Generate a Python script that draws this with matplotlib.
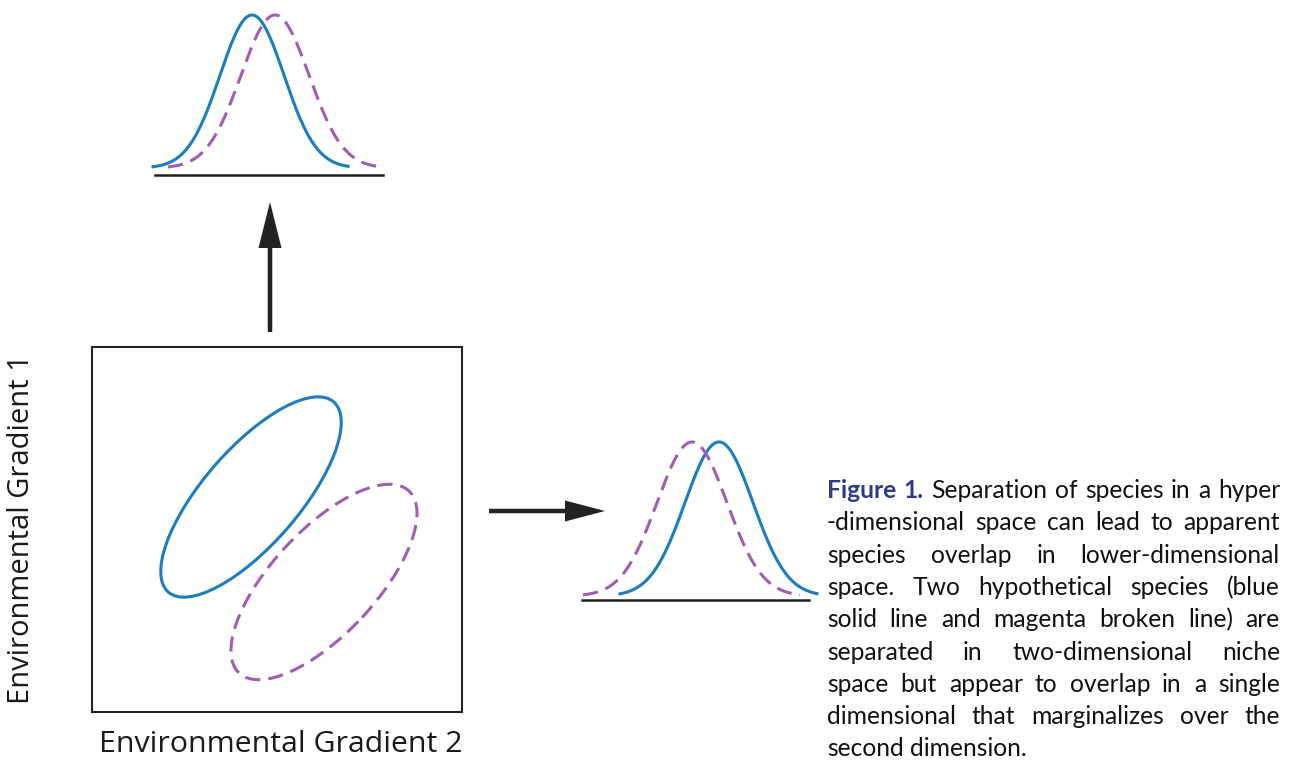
import matplotlib
matplotlib.use("Agg")
import numpy as np
import matplotlib.pyplot as plt
from matplotlib.patches import Ellipse, FancyArrow

# shape parameters (pixel-like units)
# ellipses in the niche box: centre x, centre y, full width, full height, angle
blue_ellipse = [159, 215, 252, 96, 49]
magenta_ellipse = [232, 130, 249, 104, 47]

# top marginal (gradient 2): mean, sd, x start, x end
top_blue = [160, 32, 61, 256]
top_magenta = [183, 34, 76, 290]
top_base = [63, 291]

# right marginal (gradient 1): mean, sd, x start, x end
right_blue = [149, 34, 50, 247]
right_magenta = [122, 35, 13, 230]
right_base = [12, 239]

xlabel = "Environmental Gradient 2"
ylabel = "Environmental Gradient 1"
caption_lines = [
    [("Figure", True), ("1.", True), ("Separation", False), ("of", False), ("species", False),
     ("in", False), ("a", False), ("hyper", False)],
    [("-dimensional", False), ("space", False), ("can", False), ("lead", False), ("to", False),
     ("apparent", False)],
    [("species", False), ("overlap", False), ("in", False), ("lower-dimensional", False)],
    [("space.", False), ("Two", False), ("hypothetical", False), ("species", False), ("(blue", False)],
    [("solid", False), ("line", False), ("and", False), ("magenta", False), ("broken", False),
     ("line)", False), ("are", False)],
    [("separated", False), ("in", False), ("two-dimensional", False), ("niche", False)],
    [("space", False), ("but", False), ("appear", False), ("to", False), ("overlap", False),
     ("in", False), ("a", False), ("single", False)],
    [("dimensional", False), ("that", False), ("marginalizes", False), ("over", False), ("the", False)],
    [("second", False), ("dimension.", False)],
]

BLUE = "#1b7dbf"
MAGENTA = "#a05db2"
DARK = "#222222"
W, H = 1293, 765

fig = plt.figure(figsize=(W / 100, H / 100), dpi=100)


def px_axes(x0, y0, x1, y1):
    return fig.add_axes([x0 / W, 1 - y1 / H, (x1 - x0) / W, (y1 - y0) / H])


# niche box
box = px_axes(92, 347, 462, 712)
box.set_xlim(0, 370)
box.set_ylim(0, 365)
box.set_xticks([])
box.set_yticks([])
for s in box.spines.values():
    s.set_linewidth(1.5)
    s.set_color(DARK)
cx, cy, ew, eh, ang = blue_ellipse
box.add_patch(Ellipse((cx, cy), ew, eh, angle=ang, fill=False, ec=BLUE, lw=2.2))
cx, cy, ew, eh, ang = magenta_ellipse
box.add_patch(Ellipse((cx, cy), ew, eh, angle=ang, fill=False, ec=MAGENTA, lw=2.2,
                      ls=(0, (5, 2.6))))


def gauss(p):
    mu, sd, a, b = p
    x = np.linspace(a, b, 300)
    return x, np.exp(-0.5 * ((x - mu) / sd) ** 2)


# top marginal
top = px_axes(92, 0, 462, 190)
top.set_xlim(0, 370)
top.set_ylim(-0.1438, 1.098)
top.axis("off")
x, y = gauss(top_blue)
top.plot(x, y, color=BLUE, lw=2.2)
x, y = gauss(top_magenta)
top.plot(x, y, color=MAGENTA, lw=2.2, ls=(0, (5, 2.6)))
top.plot(top_base, [-0.046, -0.046], color=DARK, lw=1.8)

# right marginal
right = px_axes(570, 425, 830, 615)
right.set_xlim(0, 260)
right.set_ylim(-0.123, 1.110)
right.axis("off")
x, y = gauss(right_blue)
right.plot(x, y, color=BLUE, lw=2.2)
x, y = gauss(right_magenta)
right.plot(x, y, color=MAGENTA, lw=2.2, ls=(0, (5, 2.6)))
right.plot(right_base, [-0.026, -0.026], color=DARK, lw=1.8)

# overlay canvas in pixel units for arrows and text
canvas = fig.add_axes([0, 0, 1, 1], zorder=-1)
canvas.set_xlim(0, W)
canvas.set_ylim(H, 0)
canvas.axis("off")

canvas.add_patch(FancyArrow(270, 332, 0, -130, width=4.5, head_width=23, head_length=46,
                            length_includes_head=True, color=DARK, lw=0))
canvas.add_patch(FancyArrow(489, 511, 116, 0, width=4.5, head_width=21, head_length=40,
                            length_includes_head=True, color=DARK, lw=0))

renderer = fig.canvas.get_renderer()


def fit_size(text, width, **kw):
    t = canvas.text(0, 0, text, fontsize=20, **kw)
    w = t.get_window_extent(renderer).width
    t.remove()
    return 20 * width / w


lab_font = "Open Sans"
canvas.text(281, 745, xlabel, fontsize=fit_size(xlabel, 362, family=lab_font),
            family=lab_font, color="#1a1a1a", ha="center", va="center")
canvas.text(22, 529, ylabel, fontsize=fit_size(ylabel, 348, family=lab_font),
            family=lab_font, color="#1a1a1a", ha="center", va="center", rotation=90)

# justified caption
cap_font = "Lato"
cap_size = fit_size("second dimension.", 201, family=cap_font)
left, right_edge = 827, 1280
for i, line in enumerate(caption_lines):
    yb = 498 + 32.3 * i
    texts = []
    for word, bold in line:
        t = canvas.text(0, yb, word, fontsize=cap_size, family=cap_font, va="baseline",
                        fontweight="bold" if bold else "normal",
                        color="#2e3a8c" if bold else "#111111")
        texts.append(t)
    widths = [t.get_window_extent(renderer).width for t in texts]
    if i < len(caption_lines) - 1:
        gap = (right_edge - left - sum(widths)) / (len(texts) - 1)
    else:
        gap = fit_size(" ", 1, family=cap_font) and cap_size * 100 / 72 * 0.25
    xpos = left
    for t, w in zip(texts, widths):
        t.set_x(xpos)
        xpos += w + gap

fig.savefig("out.png", dpi=100)
